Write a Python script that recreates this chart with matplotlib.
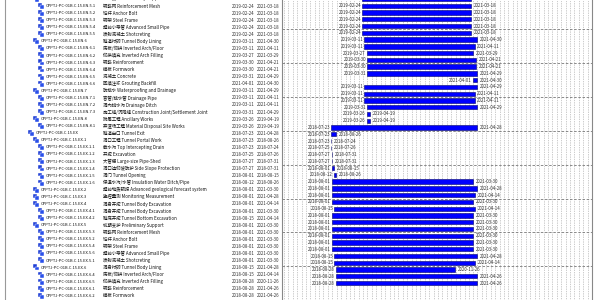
import matplotlib
matplotlib.use('Agg')
import matplotlib.pyplot as plt
import matplotlib.dates as mdates
from matplotlib.patches import Rectangle
from datetime import datetime

plt.rcParams['font.family'] = ['Noto Sans CJK SC', 'DejaVu Sans']

prefix = 'CPPTJ-PC-01B.C.15.'
codes = ['EN.5', 'EN.5.1', 'EN.5.2', 'EN.5.3', 'EN.5.4', 'EN.5.5',
         'EN.6', 'EN.6.1', 'EN.6.2', 'EN.6.3', 'EN.6.4', 'EN.6.5', 'EN.6.6',
         'EN.7', 'EN.7.1', 'EN.7.2', 'EN.7.3', 'EN.8', 'EN.8.1',
         'EX', 'EX.1', 'EX.1.1', 'EX.1.2', 'EX.1.3', 'EX.1.4', 'EX.1.5', 'EX.1.6',
         'EX.2', 'EX.3', 'EX.4', 'EX.4.1', 'EX.4.2',
         'EX.5', 'EX.5.3', 'EX.5.2', 'EX.5.4', 'EX.5.6', 'EX.5.1',
         'EX.6', 'EX.6.4', 'EX.6.5', 'EX.6.1', 'EX.6.2']
names = ['初期支护 Preliminary Support', '钢筋网 Reinforcement Mesh', '锚杆 Anchor Bolt',
         '钢架 Steel Frame', '超前小导管 Advanced Small Pipe', '喷射混凝土 Shotcreting',
         '隧道衬砌 Tunnel Body Lining', '底板/仰拱 Inverted Arch/Floor', '仰拱填充 Inverted Arch Filling',
         '钢筋 Reinforcement', '模板 Formwork', '混凝土 Concrete', '回填注浆 Grouting Backfill',
         '防排水 Waterproofing and Drainage', '盲管/排水管 Drainage Pipe', '洞内排水沟 Drainage Ditch',
         '施工缝/沉降缝 Construction Joint/Settlement Joint', '附属工程 Ancillary Works',
         '弃渣场工程 Material Disposal Site Works',
         '隧道出口 Tunnel Exit', '洞口工程 Tunnel Portal Work', '截水沟 Top Intercepting Drain',
         '开挖 Excavation', '大管棚 Large-size Pipe-Shed', '洞口边仰坡防护 Side Slope Protection',
         '洞门 Tunnel Opening', '保温水沟/水管 Insulation Water Ditch/Pipe',
         '超前地质预报 Advanced geological forecast system', '监控量测 Monitoring Measurement',
         '洞身开挖 Tunnel Body Excavation', '洞身开挖 Tunnel Body Excavation',
         '隧底开挖 Tunnel Bottom Excavation',
         '初期支护 Preliminary Support', '钢筋网 Reinforcement Mesh', '锚杆 Anchor Bolt',
         '钢架 Steel Frame', '超前小导管 Advanced Small Pipe', '喷射混凝土 Shotcreting',
         '洞身衬砌 Tunnel Body Lining', '底板/仰拱 Inverted Arch/Floor', '仰拱填充 Inverted Arch Filling',
         '钢筋 Reinforcement', '模板 Formwork']
levels = [1, 2, 2, 2, 2, 2,
          1, 2, 2, 2, 2, 2, 2,
          1, 2, 2, 2, 1, 2,
          0, 1, 2, 2, 2, 2, 2, 2,
          1, 1, 1, 2, 2,
          1, 2, 2, 2, 2, 2,
          1, 2, 2, 2, 2]
starts = ['2019-02-24', '2019-02-24', '2019-02-24', '2019-02-24', '2019-02-24', '2019-02-24',
          '2019-03-11', '2019-03-11', '2019-03-27', '2019-03-30', '2019-03-30', '2019-03-31', '2021-04-01',
          '2019-03-11', '2019-03-11', '2019-03-11', '2019-03-31', '2019-03-26', '2019-03-26',
          '2018-07-23', '2018-07-23', '2018-07-23', '2018-07-25', '2018-07-27', '2018-07-27',
          '2018-08-01', '2018-08-12',
          '2018-08-01', '2018-08-01', '2018-08-01', '2018-08-01', '2018-08-15',
          '2018-08-01', '2018-08-01', '2018-08-01', '2018-08-01', '2018-08-01', '2018-08-01',
          '2018-08-15', '2018-08-15', '2018-08-28', '2018-08-28', '2018-08-28']
ends = ['2021-03-18', '2021-03-18', '2021-03-18', '2021-03-18', '2021-03-18', '2021-03-18',
        '2021-04-30', '2021-04-11', '2021-03-29', '2021-04-21', '2021-04-21', '2021-04-29', '2021-04-30',
        '2021-04-29', '2021-04-11', '2021-04-11', '2021-04-29', '2019-04-19', '2019-04-19',
        '2021-04-28', '2018-08-26', '2018-07-24', '2018-07-26', '2018-07-31', '2018-07-31',
        '2018-08-15', '2018-08-26',
        '2021-03-30', '2021-04-28', '2021-04-14', '2021-03-30', '2021-04-14',
        '2021-03-30', '2021-03-30', '2021-03-30', '2021-03-30', '2021-03-30', '2021-03-30',
        '2021-04-28', '2021-04-14', '2020-11-26', '2021-04-26', '2021-04-26']

fs = 3.2
fs_code = 2.95
n = len(codes)
ylim = (42.58, 0.15)

fig = plt.figure(figsize=(6, 3), dpi=100)

# left tree / table
ax_t = fig.add_axes([0, 0, 282 / 600, 1])
ax_t.set_xlim(0, 282)
ax_t.set_ylim(*ylim)
ax_t.axis('off')
ax_t.axvline(5, color='#999999', lw=0.8)

for i in range(n):
    x0 = 28 + 5 * levels[i]
    ax_t.add_patch(Rectangle((x0, i - 0.45), 4.0, 0.55, facecolor='#1f3fd6',
                             edgecolor='white', lw=0.3))
    ax_t.add_patch(Rectangle((x0 + 1.8, i - 0.15), 4.0, 0.55, facecolor='#2a50ea',
                             edgecolor='white', lw=0.3))
    ax_t.text(x0 + 8, i, prefix + codes[i], fontsize=fs_code, va='center', ha='left', color='#111111')
    ax_t.text(103, i, names[i], fontsize=fs, va='center', ha='left', color='#111111')
    ax_t.text(232, i, starts[i], fontsize=fs, va='center', ha='left', color='#333333')
    ax_t.text(257, i, ends[i], fontsize=fs, va='center', ha='left', color='#333333')

# gantt
ax = fig.add_axes([282 / 600, 0, 310 / 600, 1])
s = [datetime.strptime(d, '%Y-%m-%d') for d in starts]
e = [datetime.strptime(d, '%Y-%m-%d') for d in ends]
rows = list(range(n))
dur = [mdates.date2num(b) - mdates.date2num(a) for a, b in zip(s, e)]
ax.barh(rows, dur, left=mdates.date2num(s), height=0.64, color='#0000ff',
        edgecolor='#00006a', lw=0.4, zorder=3)
for i in range(n):
    ax.annotate(starts[i], (mdates.date2num(s[i]), i), xytext=(-0.8, 0),
                textcoords='offset points', ha='right', va='center', fontsize=fs, color='#333333')
    ax.annotate(ends[i], (mdates.date2num(e[i]), i), xytext=(2, 0),
                textcoords='offset points', ha='left', va='center', fontsize=fs, color='#333333')

ax.set_xlim(mdates.date2num(datetime(2017, 8, 18)), mdates.date2num(datetime(2023, 7, 2)))
ax.set_ylim(*ylim)
ax.xaxis.set_major_locator(mdates.MonthLocator())
ax.set_yticks([4.5 + 5 * k for k in range(9)])
ax.grid(axis='x', color='#999999', lw=0.5, linestyle=(0, (1, 1.5)))
ax.grid(axis='y', color='#777777', lw=0.6, linestyle=(0, (3, 2)))
ax.tick_params(length=0, labelbottom=False, labelleft=False)
for sp in ['top', 'bottom']:
    ax.spines[sp].set_visible(False)
for sp in ['left', 'right']:
    ax.spines[sp].set_color('#888888')
    ax.spines[sp].set_linewidth(0.8)

fig.savefig('out.png', dpi=100)
